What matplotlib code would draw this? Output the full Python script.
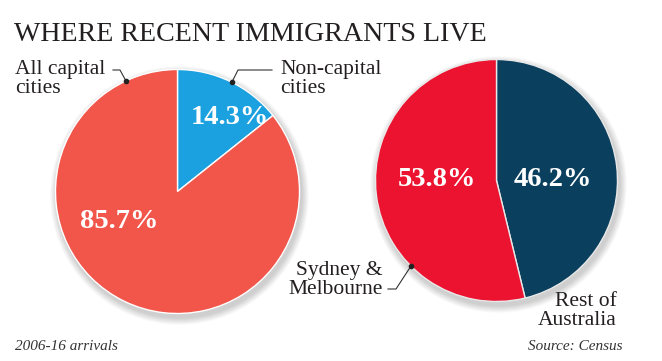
import matplotlib
matplotlib.use("Agg")
import matplotlib.pyplot as plt
from matplotlib.patches import Circle

# ---- data ----
title = "WHERE RECENT IMMIGRANTS LIVE"
left_labels = ["Non-capital\ncities", "All capital\ncities"]
left_values = [14.3, 85.7]
left_colors = ["#1ba0e0", "#f2554a"]
right_labels = ["Rest of\nAustralia", "Sydney &\nMelbourne"]
right_values = [46.2, 53.8]
right_colors = ["#0b3f5e", "#ec1330"]
footnote = "2006-16 arrivals"
source = "Source: Census"

W, H = 662, 361
fig = plt.figure(figsize=(W / 100, H / 100), dpi=100)
ax = fig.add_axes([0, 0, 1, 1])
ax.set_xlim(0, W)
ax.set_ylim(0, H)
ax.set_aspect("equal")
ax.axis("off")

def Y(y):  # image y -> axes y
    return H - y

serif = "Liberation Serif"
txt = "#231f20"

def shadow(cx, cy, r):
    for i in range(8):
        ax.add_patch(Circle((cx + 2, cy - 4), r + 1 + i * 0.9, color="black",
                            alpha=0.025, lw=0, zorder=0))

# left pie
lc = (177.5, Y(191.5)); lr = 122
shadow(*lc, lr)
ax.pie(left_values, colors=left_colors, startangle=90, counterclock=False,
       center=lc, radius=lr, frame=True,
       wedgeprops=dict(edgecolor="white", linewidth=1.0))

# right pie
rc = (496.5, Y(180.5)); rr = 121
shadow(*rc, rr)
ax.pie(right_values, colors=right_colors, startangle=90, counterclock=False,
       center=rc, radius=rr, frame=True,
       wedgeprops=dict(edgecolor="#e8e8e8", linewidth=1.0))

ax.set_xlim(0, W)
ax.set_ylim(0, H)
ax.axis("off")

# title
ax.text(14, Y(41), title, family=serif, fontsize=20.2, color=txt,
        ha="left", va="baseline")

# percentage labels
pct_kw = dict(family=serif, fontsize=20.5, fontweight="bold", color="white",
              ha="center", va="center")
ax.text(230, Y(117), f"{left_values[0]}%", **pct_kw)
ax.text(119, Y(222), f"{left_values[1]}%", **pct_kw)
ax.text(437, Y(180), f"{right_values[1]}%", **pct_kw)
ax.text(553, Y(180), f"{right_values[0]}%", **pct_kw)

# category labels
lab_kw = dict(family=serif, fontsize=15.5, color=txt, linespacing=1.0)
ax.text(15, Y(60), left_labels[1], ha="left", va="top", **lab_kw)
ax.text(280, Y(60), left_labels[0], ha="left", va="top", **lab_kw)
ax.text(383, Y(261), right_labels[1], ha="right", va="top", multialignment="right", **lab_kw)
ax.text(617, Y(292), right_labels[0], ha="right", va="top", multialignment="right", **lab_kw)

# leader lines
line_kw = dict(color="#333333", lw=0.8, zorder=5)
ax.plot([113, 120, 126], [Y(70), Y(70), Y(81)], **line_kw)
ax.plot([126], [Y(81)], "o", color="#222222", ms=3, zorder=6)
ax.plot([272, 238, 232], [Y(70), Y(70), Y(82)], **line_kw)
ax.plot([232], [Y(82)], "o", color="#222222", ms=3, zorder=6)
ax.plot([388, 396, 411], [Y(289), Y(289), Y(266)], **line_kw)
ax.plot([411], [Y(266)], "o", color="#222222", ms=3, zorder=6)

# footer
ax.text(15, Y(350), footnote, family=serif, style="italic", fontsize=11,
        color="#333333", ha="left", va="baseline")
ax.text(623, Y(350), source, family=serif, style="italic", fontsize=11,
        color="#333333", ha="right", va="baseline")

fig.savefig("out.png", dpi=100, facecolor="white")
